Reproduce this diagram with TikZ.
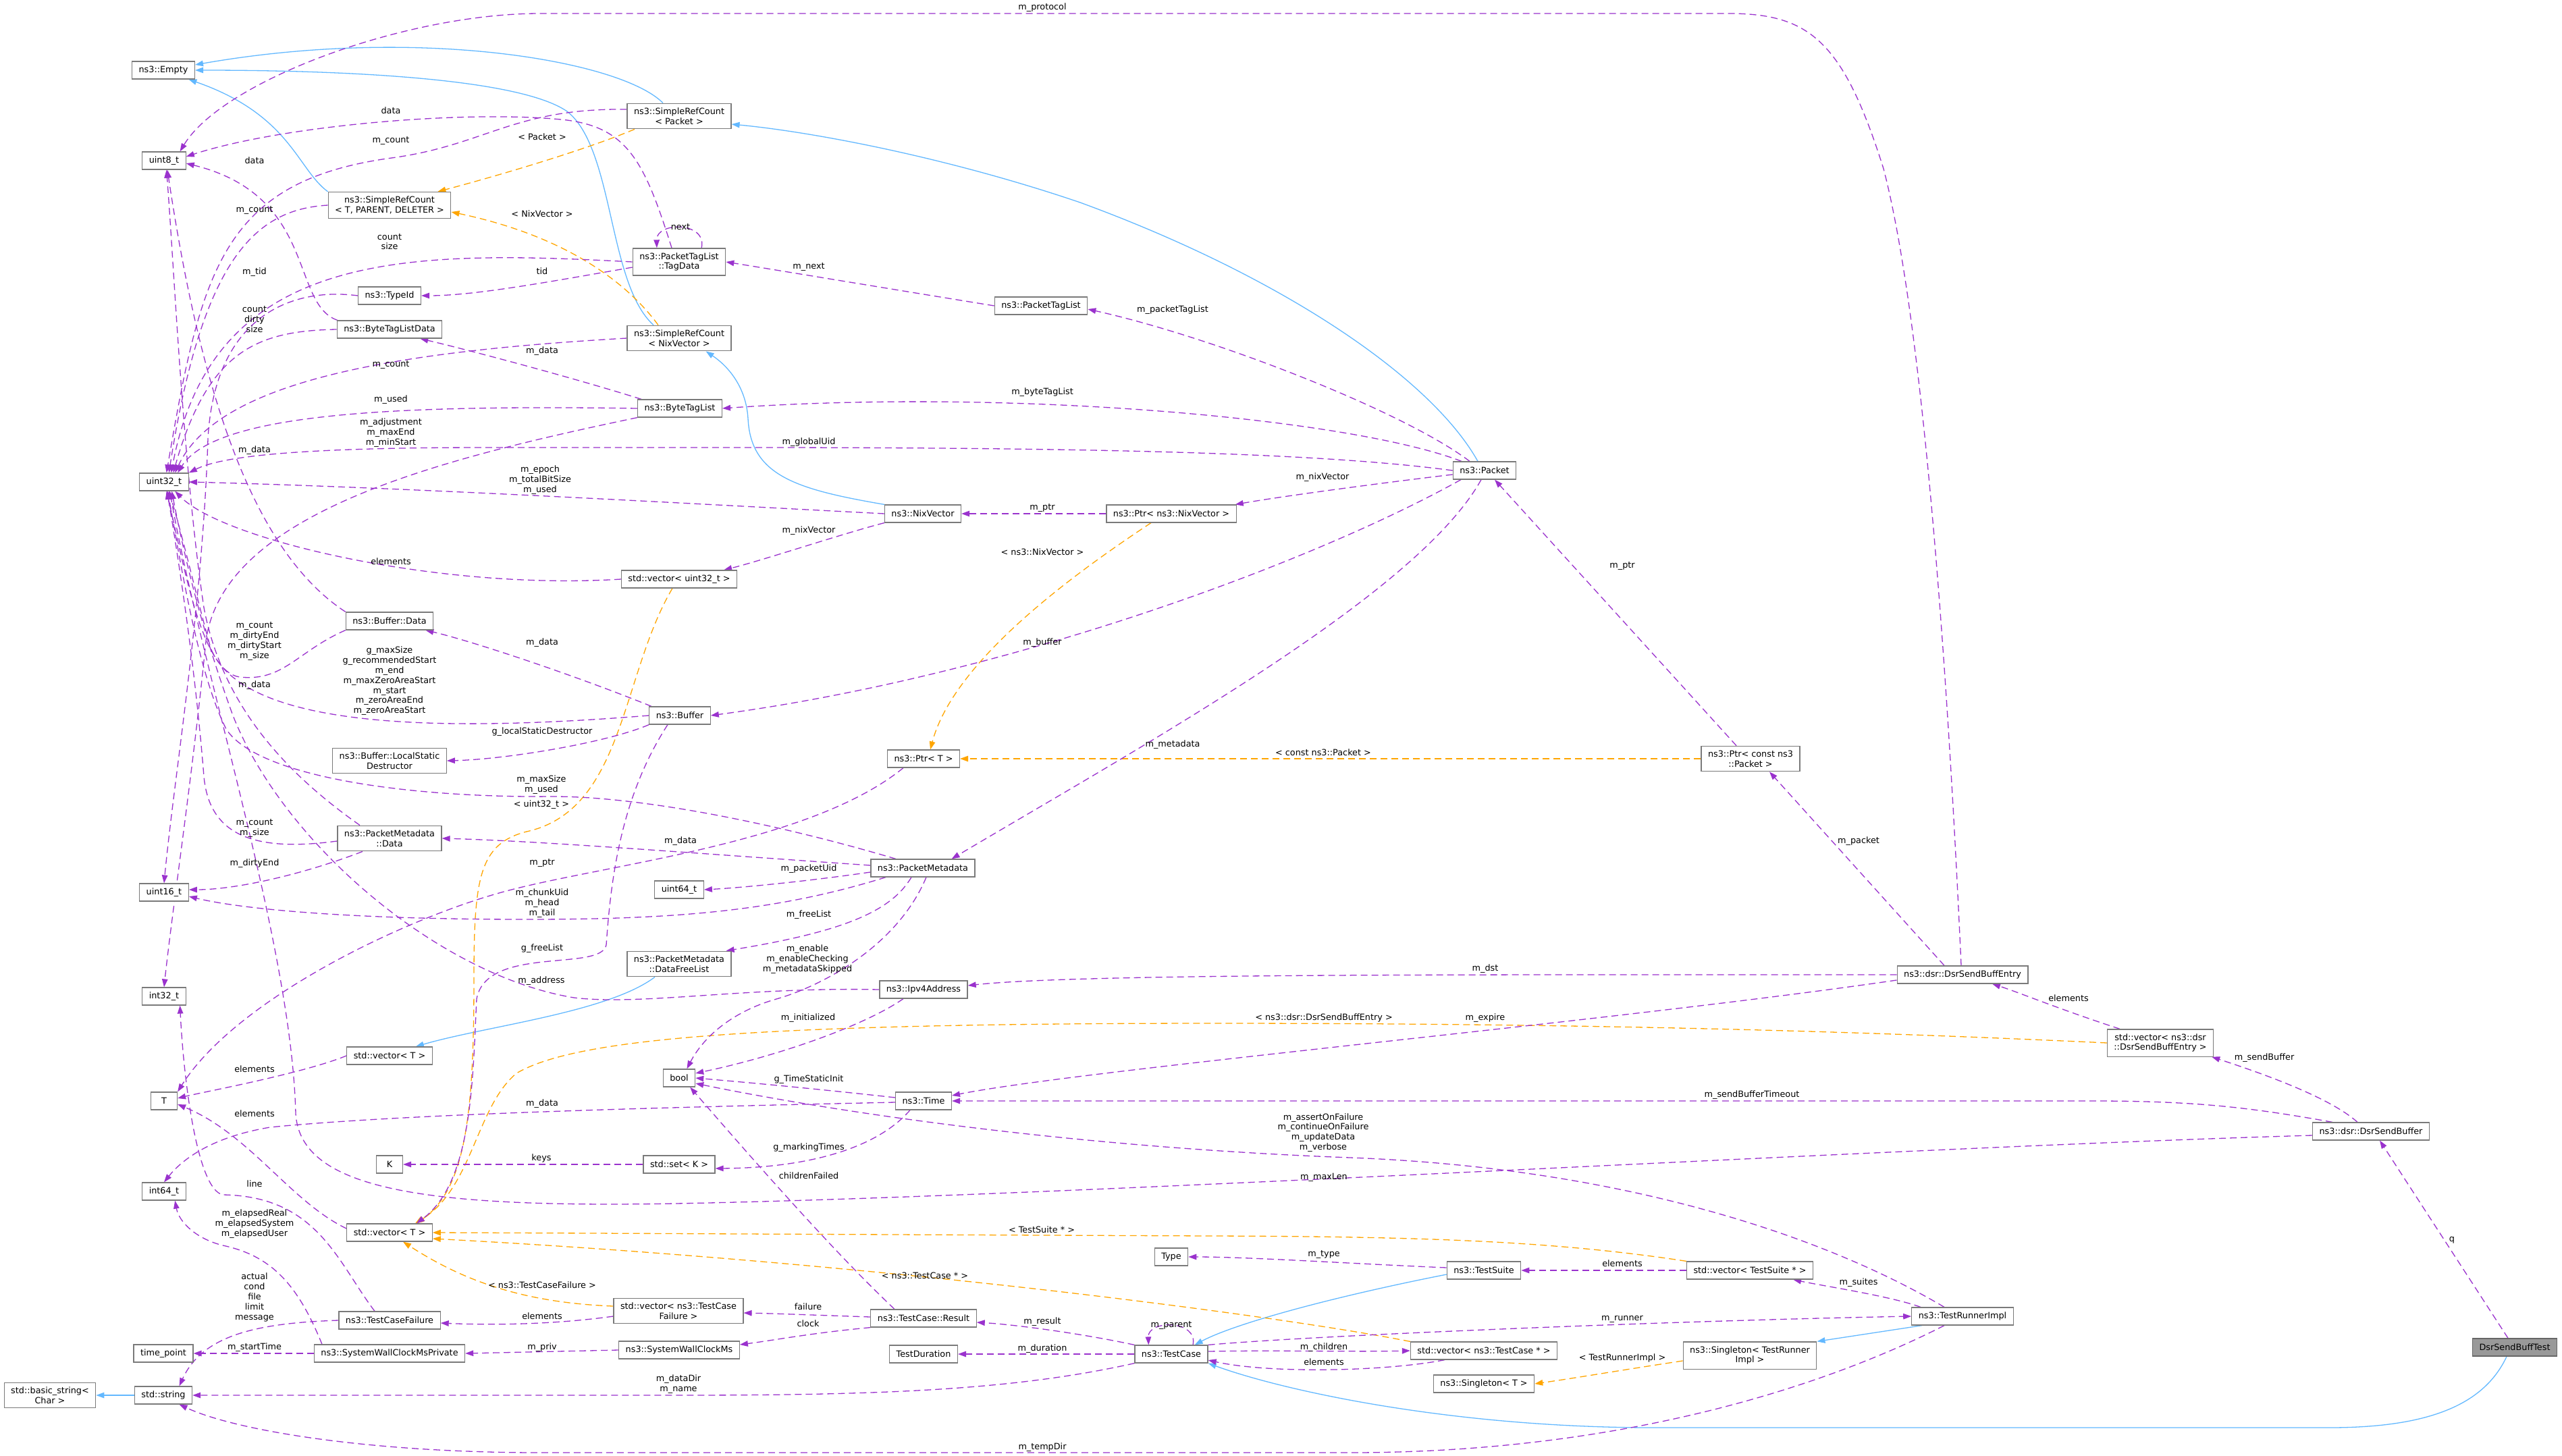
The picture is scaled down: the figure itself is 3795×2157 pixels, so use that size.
\documentclass[tikz,border=0pt]{standalone}
\usepackage{fontspec}
\setmainfont{DejaVu Sans}
\usetikzlibrary{arrows.meta}
\definecolor{mempurple}{HTML}{9A32CD}
\definecolor{inhblue}{HTML}{63B8FF}
\definecolor{tplorange}{HTML}{FFA500}
\definecolor{nodeborder}{HTML}{7A7A7A}
\definecolor{rootfill}{HTML}{999999}
\definecolor{rootborder}{HTML}{666666}
\newcommand{\dgfont}{\fontsize{12.8}{14.8}\selectfont}
\pgfdeclarelayer{edgelayer}
\pgfsetlayers{edgelayer,main}
\tikzset{
  cls/.style={draw=nodeborder, fill=white, line width=1.2pt, inner xsep=10pt, inner ysep=6.5pt, minimum height=26pt, minimum width=39pt, align=center, font=\dgfont},
  rootcls/.style={cls, fill=rootfill, draw=rootborder},
  lbl/.style={inner sep=0pt, align=center, font=\dgfont},
  dgarrow/.style={-{Triangle[length=12pt,width=8.5pt]}},
  mem/.style={draw=mempurple, line width=1.3pt, dash pattern=on 10pt off 6pt, dgarrow},
  inh/.style={draw=inhblue, line width=1.3pt, dgarrow},
  tpl/.style={draw=tplorange, line width=1.3pt, dash pattern=on 10pt off 6pt, dgarrow},
}
\begin{document}
\begin{tikzpicture}[x=1pt,y=-1pt]
\useasboundingbox (0,0) rectangle (3795,2157);
% ---------------- nodes
\node[cls] (empty) at (242,104) {ns3::Empty};
\node[cls] (u8) at (243,238) {uint8\_t};
\node[cls] (u32) at (243,714) {uint32\_t};
\node[cls] (u16) at (243,1322) {uint16\_t};
\node[cls] (i32) at (243,1476) {int32\_t};
\node[cls] (T) at (243,1631) {T};
\node[cls] (i64) at (243,1765) {int64\_t};
\node[cls] (tp) at (242,2005) {time\_point};
\node[cls] (str) at (242,2067) {std::string};
\node[cls] (bstr) at (74,2067) {std::basic\_string<\\Char >};

\node[cls] (srcTPD) at (577,304) {ns3::SimpleRefCount\\< T, PARENT, DELETER >};
\node[cls] (typeid) at (577,438) {ns3::TypeId};
\node[cls] (btld) at (577,488) {ns3::ByteTagListData};
\node[cls] (bdata) at (577,920) {ns3::Buffer::Data};
\node[cls] (lsd) at (577,1127) {ns3::Buffer::LocalStatic\\Destructor};
\node[cls] (pmdata) at (577,1242) {ns3::PacketMetadata\\::Data};
\node[cls] (vecTu) at (577,1564) {std::vector< T >};
\node[cls] (K) at (577,1725) {K};
\node[cls] (vecT) at (577,1826) {std::vector< T >};
\node[cls] (tcf) at (577,1956) {ns3::TestCaseFailure};
\node[cls] (swcmp) at (577,2005) {ns3::SystemWallClockMsPrivate};

\node[cls] (srcP) at (1006,172) {ns3::SimpleRefCount\\< Packet >};
\node[cls] (tagdata) at (1006,388) {ns3::PacketTagList\\::TagData};
\node[cls] (srcN) at (1006,501) {ns3::SimpleRefCount\\< NixVector >};
\node[cls] (btl) at (1007,605) {ns3::ByteTagList};
\node[cls] (vecu32) at (1006,858) {std::vector< uint32\_t >};
\node[cls] (buffer) at (1007,1060) {ns3::Buffer};
\node[cls] (u64) at (1006,1318) {uint64\_t};
\node[cls] (dfl) at (1006,1428) {ns3::PacketMetadata\\::DataFreeList};
\node[cls] (bool) at (1006,1597) {bool};
\node[cls] (setK) at (1006,1725) {std::set< K >};
\node[cls] (vecTCF) at (1005,1942) {std::vector< ns3::TestCase\\Failure >};
\node[cls] (swcm) at (1006,2000) {ns3::SystemWallClockMs};

\node[cls] (nix) at (1367,761) {ns3::NixVector};
\node[cls] (ptrT) at (1368,1124) {ns3::Ptr< T >};
\node[cls] (pm) at (1367,1286) {ns3::PacketMetadata};
\node[cls] (ipv4) at (1368,1466) {ns3::Ipv4Address};
\node[cls] (time) at (1368,1631) {ns3::Time};
\node[cls] (result) at (1368,1953) {ns3::TestCase::Result};
\node[cls] (tdur) at (1368,2006) {TestDuration};

\node[cls] (ptl) at (1542,453) {ns3::PacketTagList};
\node[cls] (ptrN) at (1735,761) {ns3::Ptr< ns3::NixVector >};
\node[cls] (type) at (1735,1862) {Type};
\node[cls] (tc) at (1735,2006) {ns3::TestCase};

\node[cls] (packet) at (2199,697) {ns3::Packet};
\node[cls] (suite) at (2198,1882) {ns3::TestSuite};
\node[cls] (vecTC) at (2198,2001) {std::vector< ns3::TestCase * >};
\node[cls] (singT) at (2198,2050) {ns3::Singleton< T >};

\node[cls] (ptrCP) at (2593,1124) {ns3::Ptr< const ns3\\::Packet >};
\node[cls] (vecTS) at (2592,1882) {std::vector< TestSuite * >};
\node[cls] (singTR) at (2592,2008) {ns3::Singleton< TestRunner\\Impl >};

\node[cls] (dsbe) at (2907,1444) {ns3::dsr::DsrSendBuffEntry};
\node[cls] (tri) at (2907,1950) {ns3::TestRunnerImpl};
\node[cls] (vecDSBE) at (3200,1545) {std::vector< ns3::dsr\\::DsrSendBuffEntry >};
\node[cls] (dsb) at (3512,1676) {ns3::dsr::DsrSendBuffer};
\node[rootcls] (test) at (3725,1996) {DsrSendBuffTest};

% ---------------- edges
\begin{pgfonlayer}{edgelayer}
% inheritance (blue)
\draw[inh] ([xshift=-24pt]srcP.north) .. controls (920,90) and (620,38) .. ([yshift=8pt]empty.east);
\draw[inh] ([xshift=-38pt]srcN.north) .. controls (900,420) and (910,220) .. (840,165) .. controls (760,110) and (450,104) .. (empty.east);
\draw[inh] (srcTPD.north west) .. controls (440,250) and (430,170) .. (empty.-20);
\draw[inh] ([xshift=-10pt]packet.north) .. controls (2120,560) and (1900,410) .. (1600,300) .. controls (1400,232) and (1200,195) .. ([yshift=-12pt]srcP.east);
\draw[inh] (nix.north west) .. controls (1180,725) and (1112,705) .. (1108,620) .. controls (1105,570) and (1075,540) .. ([xshift=-38pt]srcN.south east);
\draw[inh] ([xshift=-36pt]dfl.south) .. controls (900,1500) and (720,1520) .. ([xshift=-25pt]vecTu.north east);
\draw[inh] (str.west) -- (bstr.east);
\draw[inh] ([yshift=-6pt]suite.west) .. controls (1980,1920) and (1830,1960) .. ([xshift=-20pt]tc.north east);
\draw[inh] ([xshift=-60pt]tri.south) -- (singTR.north east);
\draw[inh] ([xshift=-12pt]test.south) .. controls (3680,2080) and (3600,2115) .. (3450,2115) -- (2450,2115) .. controls (2150,2115) and (1900,2060) .. (tc.south east);
% template (orange)
\draw[tpl] ([xshift=-66pt]srcP.south) .. controls (860,225) and (720,265) .. ([xshift=-20pt]srcTPD.north east);
\draw[tpl] ([xshift=-31pt]srcN.north) .. controls (930,420) and (840,350) .. ([yshift=-10pt]srcTPD.east);
\draw[tpl] ([xshift=-10pt]vecu32.south) .. controls (920,1000) and (925,1200) .. (780,1232) .. controls (710,1250) and (702,1300) .. (702,1450) .. controls (702,1650) and (690,1760) .. ([xshift=40pt]vecT.north);
\draw[tpl] ([xshift=-30pt]ptrN.south) .. controls (1560,870) and (1410,990) .. ([xshift=10pt]ptrT.north);
\draw[tpl] (ptrCP.west) -- (ptrT.east);
\draw[tpl] (vecDSBE.west) .. controls (2800,1530) and (2400,1516) .. (1800,1516) .. controls (1100,1516) and (850,1540) .. (765,1590) .. controls (705,1640) and (700,1760) .. ([xshift=38pt]vecT.north);
\draw[tpl] (vecTS.north west) .. controls (2300,1838) and (2100,1832) .. (1800,1831) .. controls (1300,1829) and (900,1827) .. (vecT.east);
\draw[tpl] (vecTC.north west) .. controls (1900,1950) and (1300,1870) .. ([yshift=-9pt]vecT.east);
\draw[tpl] ([yshift=7pt]vecTCF.west) .. controls (780,1930) and (690,1900) .. ([xshift=20pt]vecT.south);
\draw[tpl] ([yshift=-8pt]singTR.west) .. controls (2400,2030) and (2330,2042) .. (singT.east);
% members (purple)
\draw[mem] ([yshift=10pt]srcP.west) .. controls (760,160) and (720,215) .. (580,234) .. controls (330,268) and (298,400) .. (u32.75);
\draw[mem] (srcTPD.west) .. controls (380,310) and (300,380) .. (u32.62);
\draw[mem] (tagdata.west) .. controls (600,370) and (315,370) .. (u32.52);
\draw[mem] (typeid.west) .. controls (430,425) and (318,470) .. (308,650) .. controls (300,900) and (258,1150) .. (u16.north);
\draw[mem] (btld.west) .. controls (380,490) and (308,520) .. (u32.45);
\draw[mem] (srcN.west) .. controls (600,520) and (325,560) .. (u32.40);
\draw[mem] (btl.west) .. controls (600,600) and (320,610) .. (u32.34);
\draw[mem] (btl.south west) .. controls (650,680) and (330,760) .. (305,950) .. controls (285,1150) and (255,1350) .. (i32.north);
\draw[mem] (packet.west) .. controls (1950,670) and (1600,663) .. (1100,663) -- (720,663) .. controls (450,663) and (330,675) .. (u32.north east);
\draw[mem] (nix.west) .. controls (1000,745) and (600,722) .. (u32.east);
\draw[mem] (vecu32.west) .. controls (650,875) and (330,800) .. (u32.-40);
\draw[mem] (nix.south west) .. controls (1250,790) and (1130,830) .. ([xshift=-20pt]vecu32.north east);
\draw[mem] (ptrN.west) -- (nix.east);
\draw[mem] ([yshift=-6pt]packet.west) .. controls (2050,715) and (1900,735) .. ([xshift=-2pt]ptrN.north east);
\draw[mem] ([xshift=-34pt]packet.north) .. controls (2000,620) and (1500,575) .. (btl.east);
\draw[mem] ([xshift=-22pt]packet.north) .. controls (2080,610) and (1800,500) .. ([yshift=-5pt]ptl.east);
\draw[mem] (ptl.west) .. controls (1300,425) and (1150,400) .. (tagdata.east);
\draw[mem] (tagdata.32) .. controls (1048,328) and (972,328) .. (tagdata.148);
\draw[mem] ([yshift=-8pt]tagdata.west) .. controls (800,420) and (700,438) .. (typeid.east);
\draw[mem] ([xshift=-11pt]tagdata.north) .. controls (955,240) and (930,190) .. (840,178) .. controls (700,162) and (420,185) .. ([yshift=6pt]u8.east);
\draw[mem] (btld.170) .. controls (430,450) and (470,290) .. ([yshift=-4pt]u8.east);
\draw[mem] ([xshift=-57pt]btl.north) .. controls (850,560) and (700,520) .. ([xshift=-33pt]btld.south east);
\draw[mem] (bdata.north west) .. controls (380,820) and (300,600) .. (u8.-70);
\draw[mem] (bdata.south west) .. controls (440,965) and (420,1010) .. (355,1003) .. controls (300,995) and (275,850) .. (u32.-75);
\draw[mem] ([xshift=-42pt]buffer.north) .. controls (850,1000) and (700,950) .. ([xshift=-12pt]bdata.south east);
\draw[mem] (buffer.west) .. controls (650,1085) and (360,1080) .. (312,960) .. controls (290,880) and (272,800) .. (u32.-62);
\draw[mem] (buffer.south west) .. controls (900,1100) and (750,1125) .. (lsd.east);
\draw[mem] ([xshift=-18pt]buffer.south) .. controls (920,1180) and (905,1300) .. (898,1400) .. controls (890,1440) and (720,1400) .. (706,1480) .. controls (700,1600) and (700,1750) .. ([xshift=40pt]vecT.north);
\draw[mem] ([xshift=-40pt]pm.north) .. controls (1150,1220) and (950,1180) .. (820,1180) .. controls (600,1182) and (380,1150) .. (335,1080) .. controls (295,1000) and (270,850) .. (u32.-68);
\draw[mem] ([yshift=4pt]pm.west) .. controls (1000,1262) and (800,1246) .. (pmdata.east);
\draw[mem] ([yshift=-6pt]pm.west) .. controls (1200,1305) and (1100,1315) .. (u64.east);
\draw[mem] ([xshift=-55pt]pm.south) .. controls (1150,1350) and (1000,1362) .. (780,1362) .. controls (500,1362) and (350,1345) .. ([yshift=-6pt]u16.east);
\draw[mem] ([xshift=-17pt]pm.south) .. controls (1320,1350) and (1250,1380) .. ([xshift=-8pt]dfl.north east);
\draw[mem] ([xshift=5pt]pm.south) .. controls (1330,1400) and (1220,1460) .. (1150,1480) .. controls (1080,1500) and (1040,1540) .. (bool.50);
\draw[mem] (ipv4.west) .. controls (1100,1462) and (950,1490) .. (850,1478) .. controls (650,1445) and (420,1250) .. (345,1060) .. controls (305,950) and (278,850) .. (u32.-50);
\draw[mem] ([xshift=-30pt]ipv4.south) .. controls (1280,1520) and (1150,1565) .. ([yshift=7pt]bool.east);
\draw[mem] ([yshift=5pt]time.west) .. controls (1200,1612) and (1100,1603) .. (bool.east);
\draw[mem] ([yshift=-2pt]time.west) .. controls (1000,1640) and (600,1650) .. (400,1670) .. controls (310,1685) and (268,1720) .. (i64.north);
\draw[mem] ([xshift=-20pt]time.south) .. controls (1300,1700) and (1200,1730) .. ([yshift=-6pt]setK.east);
\draw[mem] (setK.west) -- (K.east);
\draw[mem] ([yshift=-6pt]dsb.west) .. controls (2800,1700) and (1600,1772) .. (1000,1783) .. controls (620,1790) and (445,1760) .. (438,1650) .. controls (432,1400) and (300,1000) .. (u32.-58);
\draw[mem] ([xshift=30pt]dsb.north west) .. controls (3330,1640) and (3250,1631) .. (3100,1631) -- (time.east);
\draw[mem] ([xshift=-20pt]dsb.north) .. controls (3450,1625) and (3350,1590) .. ([xshift=-3pt]vecDSBE.south east);
\draw[mem] ([xshift=-60pt]vecDSBE.north) .. controls (3050,1495) and (2990,1470) .. ([xshift=44pt]dsbe.south);
\draw[mem] ([xshift=-10pt]test.north) -- ([xshift=13pt]dsb.south);
\draw[mem] (dsbe.west) .. controls (2200,1444) and (1600,1442) .. ([yshift=6pt]ipv4.east);
\draw[mem] ([yshift=-8pt]dsbe.west) .. controls (2400,1512) and (1600,1585) .. ([yshift=8pt]time.east);
\draw[mem] ([xshift=-27pt]dsbe.north) -- ([xshift=28pt]ptrCP.south);
\draw[mem] ([xshift=-2pt]dsbe.north) .. controls (2890,1100) and (2855,500) .. (2790,250) .. controls (2730,60) and (2680,20) .. (2560,20) -- (800,20) .. controls (600,20) and (330,120) .. (u8.30);
\draw[mem] ([xshift=-35pt]packet.south) .. controls (1950,830) and (1500,1000) .. (buffer.east);
\draw[mem] ([xshift=-5pt]packet.south) .. controls (2100,880) and (1700,1100) .. ([xshift=-35pt]pm.north east);
\draw[mem] ([xshift=-21pt]ptrCP.north) -- ([xshift=15pt]packet.south);
\draw[mem] ([xshift=-30pt]ptrT.south) .. controls (1200,1250) and (900,1280) .. (750,1320) .. controls (600,1360) and (350,1480) .. (T.north east);
\draw[mem] (vecTu.west) .. controls (450,1590) and (300,1618) .. ([yshift=4pt]T.east);
\draw[mem] ([yshift=6pt]vecT.west) .. controls (430,1780) and (370,1680) .. ([yshift=-5pt]T.east);
\draw[mem] ([xshift=-22pt]tcf.north) .. controls (500,1870) and (470,1772) .. (330,1770) .. controls (292,1762) and (272,1600) .. (i32.-30);
\draw[mem] ([xshift=-100pt]swcmp.north) .. controls (440,1900) and (400,1860) .. (330,1845) .. controls (290,1835) and (265,1810) .. (i64.-40);
\draw[mem] (tcf.west) .. controls (380,1960) and (300,1978) .. (str.30);
\draw[mem] (swcmp.west) -- (tp.east);
\draw[mem] (swcm.west) -- (swcmp.east);
\draw[mem] ([yshift=-8pt]vecTCF.west) .. controls (800,1965) and (700,1962) .. ([yshift=-4pt]tcf.east);
\draw[mem] ([yshift=2pt]result.west) .. controls (1200,1948) and (1150,1946) .. ([yshift=-3pt]vecTCF.east);
\draw[mem] (result.south west) .. controls (1200,1975) and (1150,1985) .. ([yshift=8pt]swcm.east);
\draw[mem] ([xshift=-43pt]result.north) .. controls (1230,1850) and (1100,1700) .. (bool.-40);
\draw[mem] (tc.north west) .. controls (1600,1975) and (1500,1962) .. ([yshift=-6pt]result.east);
\draw[mem] (tc.west) -- (tdur.east);
\draw[mem] (tc.23) .. controls (1775,1955) and (1700,1955) .. (tc.158);
\draw[mem] ([yshift=4pt]tc.east) .. controls (1900,2000) and (2000,2003) .. (vecTC.west);
\draw[mem] ([xshift=-58pt]vecTC.south) .. controls (2050,2032) and (1880,2035) .. ([yshift=-9pt]tc.east);
\draw[mem] (tc.north east) .. controls (1950,1978) and (2500,1956) .. (tri.west);
\draw[mem] ([xshift=-27pt]tri.north) .. controls (2700,1830) and (2400,1730) .. (2000,1715) .. controls (1600,1700) and (1250,1650) .. ([yshift=-8pt]bool.east);
\draw[mem] ([xshift=-62pt]tri.north) .. controls (2800,1920) and (2700,1905) .. ([xshift=-30pt]vecTS.south east);
\draw[mem] ([xshift=-27pt]tri.south) .. controls (2750,2030) and (2450,2152) .. (2000,2152) -- (800,2152) .. controls (550,2152) and (350,2120) .. (str.-30);
\draw[mem] (tc.south west) .. controls (1500,2060) and (1300,2067) .. (1000,2067) -- (str.east);
\draw[mem] ([yshift=4pt]suite.west) .. controls (2000,1872) and (1850,1862) .. (type.east);
\draw[mem] (vecTS.west) -- (suite.east);
\draw[mem] ([xshift=-44pt]pmdata.north) .. controls (430,1150) and (330,1050) .. (302,900) .. controls (272,700) and (258,400) .. (u8.-75);
\draw[mem] ([yshift=-4pt]pmdata.west) .. controls (380,1262) and (310,1240) .. (302,1150) .. controls (290,1000) and (268,850) .. (u32.-72);
\draw[mem] ([xshift=-40pt]pmdata.south) .. controls (450,1295) and (350,1318) .. ([yshift=4pt]u16.east);
\end{pgfonlayer}

% ---------------- labels
\node[lbl] (lb1) at (1544,11) {m\_protocol};
\node[lbl] (lb2) at (579,164) {data};
\node[lbl] (lb3) at (579,209) {m\_count};
\node[lbl] (lb4) at (803,203) {< Packet >};
\node[lbl] (lb5) at (377,238) {data};
\node[lbl] (lb6) at (377,312) {m\_count};
\node[lbl] (lb7) at (803,317) {< NixVector >};
\node[lbl] (lb8) at (1008,336) {next};
\node[lbl] (lb9) at (577,358) {count\\size};
\node[lbl] (lb10) at (803,402) {tid};
\node[lbl] (lb11) at (377,403) {m\_tid};
\node[lbl] (lb12) at (1198,396) {m\_next};
\node[lbl] (lb13) at (1737,459) {m\_packetTagList};
\node[lbl] (lb14) at (377,473) {count\\dirty\\size};
\node[lbl] (lb15) at (803,520) {m\_data};
\node[lbl] (lb16) at (579,541) {m\_count};
\node[lbl] (lb17) at (1544,581) {m\_byteTagList};
\node[lbl] (lb18) at (579,592) {m\_used};
\node[lbl] (lb19) at (579,641) {m\_adjustment\\m\_maxEnd\\m\_minStart};
\node[lbl] (lb20) at (1198,655) {m\_globalUid};
\node[lbl] (lb21) at (377,667) {m\_data};
\node[lbl] (lb22) at (800,711) {m\_epoch\\m\_totalBitSize\\m\_used};
\node[lbl] (lb23) at (1959,707) {m\_nixVector};
\node[lbl] (lb24) at (1544,753) {m\_ptr};
\node[lbl] (lb25) at (1198,786) {m\_nixVector};
\node[lbl] (lb26) at (1544,818) {< ns3::NixVector >};
\node[lbl] (lb27) at (579,832) {elements};
\node[lbl] (lb28) at (2403,839) {m\_ptr};
\node[lbl] (lb29) at (377,950) {m\_count\\m\_dirtyEnd\\m\_dirtyStart\\m\_size};
\node[lbl] (lb30) at (803,952) {m\_data};
\node[lbl] (lb31) at (1544,952) {m\_buffer};
\node[lbl] (lb32) at (577,1009) {g\_maxSize\\g\_recommendedStart\\m\_end\\m\_maxZeroAreaStart\\m\_start\\m\_zeroAreaEnd\\m\_zeroAreaStart};
\node[lbl] (lb33) at (377,1015) {m\_data};
\node[lbl] (lb34) at (803,1084) {g\_localStaticDestructor};
\node[lbl] (lb35) at (1737,1103) {m\_metadata};
\node[lbl] (lb36) at (1960,1115) {< const ns3::Packet >};
\node[lbl] (lb37) at (802,1163) {m\_maxSize\\m\_used};
\node[lbl] (lb38) at (802,1192) {< uint32\_t >};
\node[lbl] (lb39) at (377,1227) {m\_count\\m\_size};
\node[lbl] (lb40) at (1008,1246) {m\_data};
\node[lbl] (lb41) at (803,1278) {m\_ptr};
\node[lbl] (lb42) at (377,1279) {m\_dirtyEnd};
\node[lbl] (lb43) at (1198,1287) {m\_packetUid};
\node[lbl] (lb44) at (803,1338) {m\_chunkUid\\m\_head\\m\_tail};
\node[lbl] (lb45) at (1198,1355) {m\_freeList};
\node[lbl] (lb46) at (803,1405) {g\_freeList};
\node[lbl] (lb47) at (1196,1421) {m\_enable\\m\_enableChecking\\m\_metadataSkipped};
\node[lbl] (lb48) at (802,1453) {m\_address};
\node[lbl] (lb49) at (2200,1435) {m\_dst};
\node[lbl] (lb50) at (2753,1246) {m\_packet};
\node[lbl] (lb51) at (3064,1479) {elements};
\node[lbl] (lb52) at (1961,1508) {< ns3::dsr::DsrSendBuffEntry >};
\node[lbl] (lb53) at (2200,1508) {m\_expire};
\node[lbl] (lb54) at (1197,1508) {m\_initialized};
\node[lbl] (lb55) at (3354,1567) {m\_sendBuffer};
\node[lbl] (lb56) at (377,1584) {elements};
\node[lbl] (lb57) at (1198,1599) {g\_TimeStaticInit};
\node[lbl] (lb58) at (2595,1622) {m\_sendBufferTimeout};
\node[lbl] (lb59) at (803,1635) {m\_data};
\node[lbl] (lb60) at (377,1650) {elements};
\node[lbl] (lb61) at (1960,1678) {m\_assertOnFailure\\m\_continueOnFailure\\m\_updateData\\m\_verbose};
\node[lbl] (lb62) at (1198,1700) {g\_markingTimes};
\node[lbl] (lb63) at (802,1716) {keys};
\node[lbl] (lb64) at (1198,1742) {childrenFailed};
\node[lbl] (lb65) at (1961,1744) {m\_maxLen};
\node[lbl] (lb66) at (377,1754) {line};
\node[lbl] (lb67) at (377,1813) {m\_elapsedReal\\m\_elapsedSystem\\m\_elapsedUser};
\node[lbl] (lb68) at (3632,1837) {q};
\node[lbl] (lb69) at (1543,1822) {< TestSuite * >};
\node[lbl] (lb70) at (1961,1858) {m\_type};
\node[lbl] (lb71) at (2403,1872) {elements};
\node[lbl] (lb72) at (1370,1890) {< ns3::TestCase * >};
\node[lbl] (lb73) at (2753,1900) {m\_suites};
\node[lbl] (lb74) at (803,1904) {< ns3::TestCaseFailure >};
\node[lbl] (lb75) at (377,1922) {actual\\cond\\file\\limit\\message};
\node[lbl] (lb76) at (1197,1936) {failure};
\node[lbl] (lb77) at (803,1950) {elements};
\node[lbl] (lb78) at (2403,1954) {m\_runner};
\node[lbl] (lb79) at (1544,1958) {m\_result};
\node[lbl] (lb80) at (1197,1961) {clock};
\node[lbl] (lb81) at (1735,1963) {m\_parent};
\node[lbl] (lb82) at (377,1996) {m\_startTime};
\node[lbl] (lb83) at (803,1996) {m\_priv};
\node[lbl] (lb84) at (1961,1996) {m\_children};
\node[lbl] (lb85) at (1544,1998) {m\_duration};
\node[lbl] (lb86) at (2403,2012) {< TestRunnerImpl >};
\node[lbl] (lb87) at (1961,2018) {elements};
\node[lbl] (lb88) at (1005,2051) {m\_dataDir\\m\_name};
\node[lbl] (lb89) at (1544,2144) {m\_tempDir};
\end{tikzpicture}
\end{document}
